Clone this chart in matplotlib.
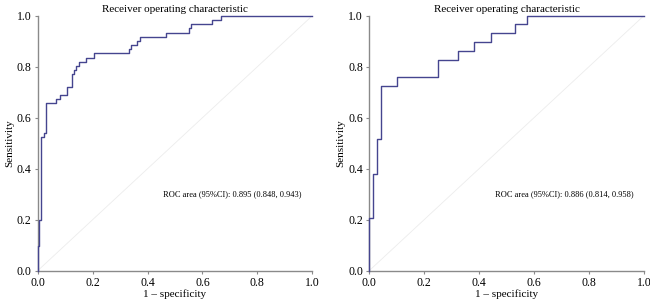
import numpy as np
import matplotlib
matplotlib.use("Agg")
import matplotlib.pyplot as plt

plt.rcParams['font.family'] = ['Liberation Serif', 'DejaVu Serif']

# ROC staircase vertices (1 - specificity, sensitivity)
fpr_left = [0, 0, 0.005, 0.013, 0.022, 0.029, 0.031, 0.066, 0.083, 0.107, 0.126,
            0.133, 0.140, 0.150, 0.177, 0.205, 0.333, 0.339, 0.360, 0.373,
            0.466, 0.551, 0.557, 0.635, 0.666, 1.0]
tpr_left = [0, 0.098, 0.197, 0.525, 0.541, 0.623, 0.656, 0.672, 0.689, 0.721,
            0.770, 0.787, 0.803, 0.820, 0.836, 0.852, 0.869, 0.885, 0.902,
            0.918, 0.934, 0.951, 0.967, 0.984, 1.0, 1.0]

fpr_right = [0, 0, 0.013, 0.027, 0.043, 0.103, 0.251, 0.324, 0.382, 0.444,
             0.530, 0.575, 1.0]
tpr_right = [0, 0.207, 0.379, 0.517, 0.724, 0.759, 0.828, 0.862, 0.897, 0.931,
             0.966, 1.0, 1.0]

labels = ["ROC area (95%CI): 0.895 (0.848, 0.943)",
          "ROC area (95%CI): 0.886 (0.814, 0.958)"]
ticks = [0.0, 0.2, 0.4, 0.6, 0.8, 1.0]

line_col = "#45458f"
gray = "#8a8a8a"

fig = plt.figure(figsize=(6.5, 3.03), dpi=100)
ax1 = fig.add_axes([0.058, 0.1066, 0.4225, 0.8416])
ax2 = fig.add_axes([0.568, 0.1066, 0.4226, 0.8416])

for ax, fx, ty, lab in [(ax1, fpr_left, tpr_left, labels[0]),
                        (ax2, fpr_right, tpr_right, labels[1])]:
    ax.plot([0, 1], [0, 1], color="#ececec", lw=0.6, zorder=1)
    ax.plot(fx, ty, drawstyle="steps-post", color=line_col, lw=1.0,
            clip_on=False, zorder=3)
    ax.set_xlim(0, 1)
    ax.set_ylim(0, 1)
    ax.set_xticks(ticks)
    ax.set_yticks(ticks)
    ax.set_xticklabels(["%.1f" % t for t in ticks])
    ax.set_yticklabels(["%.1f" % t for t in ticks])
    for s in ["top", "right"]:
        ax.spines[s].set_visible(False)
    for s in ["left", "bottom"]:
        ax.spines[s].set_color(gray)
        ax.spines[s].set_linewidth(1.0)
    ax.tick_params(direction="out", length=2.5, width=0.8, color=gray,
                   labelsize=8.5, pad=2)
    ax.set_xlabel("1 \u2013 specificity", fontsize=8, labelpad=0)
    ax.set_ylabel("Sensitivity", fontsize=8, labelpad=2)
    ax.set_title("Receiver operating characteristic", fontsize=8, pad=3)
    ax.text(0.458, 0.30, lab, fontsize=6, va="center", ha="left")

fig.savefig("out.png", dpi=100)
